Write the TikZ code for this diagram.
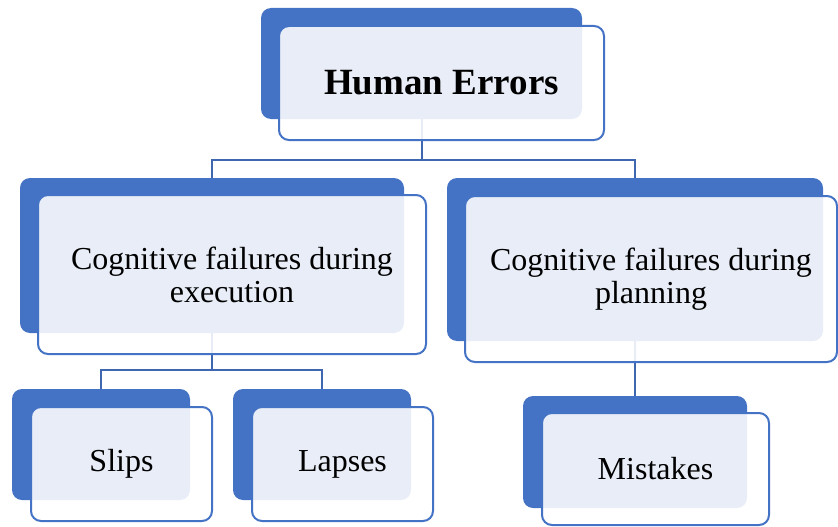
\documentclass[tikz,border=0pt]{standalone}
\usepackage{fontspec}
\setmainfont{Liberation Serif}
\usetikzlibrary{backgrounds}
\definecolor{accent}{HTML}{4472C4}
\definecolor{linkblue}{HTML}{3F67B0}
\tikzset{
  backbox/.style={rectangle, rounded corners=10pt, fill=accent, draw=none, inner sep=0pt},
  frontbox/.style={rectangle, rounded corners=10pt, draw=accent, line width=2pt,
    fill=white, fill opacity=0.88, text opacity=1, inner sep=0pt, align=center,
    font=\fontsize{32}{33}\selectfont},
  link/.style={draw=linkblue, line width=2pt}
}
\begin{document}
\begin{tikzpicture}[x=1pt, y=-1pt]
\useasboundingbox (0,0) rectangle (838,527);

% top level
\node[backbox, minimum width=321pt, minimum height=111pt] (hB) at (421.5,63.5) {};
\node[frontbox, minimum width=325pt, minimum height=114pt,
      font=\fontsize{37}{40}\selectfont\bfseries] (hF) at (441.5,83) {Human Errors};

% second level
\node[backbox, minimum width=384pt, minimum height=155pt] (eB) at (212,255.5) {};
\node[frontbox, minimum width=388pt, minimum height=159pt] (eF) at (232,274.5)
  {Cognitive failures during\\execution};

\node[backbox, minimum width=376pt, minimum height=163pt] (pB) at (635,259.5) {};
\node[frontbox, minimum width=372pt, minimum height=166pt] (pF) at (651,279)
  {Cognitive failures during\\planning};

% third level
\node[backbox, minimum width=178pt, minimum height=111pt] (sB) at (101,444.5) {};
\node[frontbox, minimum width=181pt, minimum height=114pt] (sF) at (121.5,464) {Slips};

\node[backbox, minimum width=178pt, minimum height=111pt] (lB) at (322,444.5) {};
\node[frontbox, minimum width=181pt, minimum height=114pt] (lF) at (342.5,464) {Lapses};

\node[backbox, minimum width=224pt, minimum height=112pt] (mB) at (635,452) {};
\node[frontbox, minimum width=227pt, minimum height=112pt] (mF) at (655.5,469) {Mistakes};

% connectors, kept behind the boxes
\coordinate (j1) at (421.5,160);
\coordinate (j2) at (212,370);
\begin{pgfonlayer}{background}
  \draw[link] (hB.south) -- (j1);
  \draw[link] (eB.north) |- (j1) -| (pB.north);
  \draw[link] (eB.south) -- (j2);
  \draw[link] (sB.north) |- (j2) -| (lB.north);
  \draw[link] (pB.south) -- (mB.north);
\end{pgfonlayer}
\end{tikzpicture}
\end{document}
